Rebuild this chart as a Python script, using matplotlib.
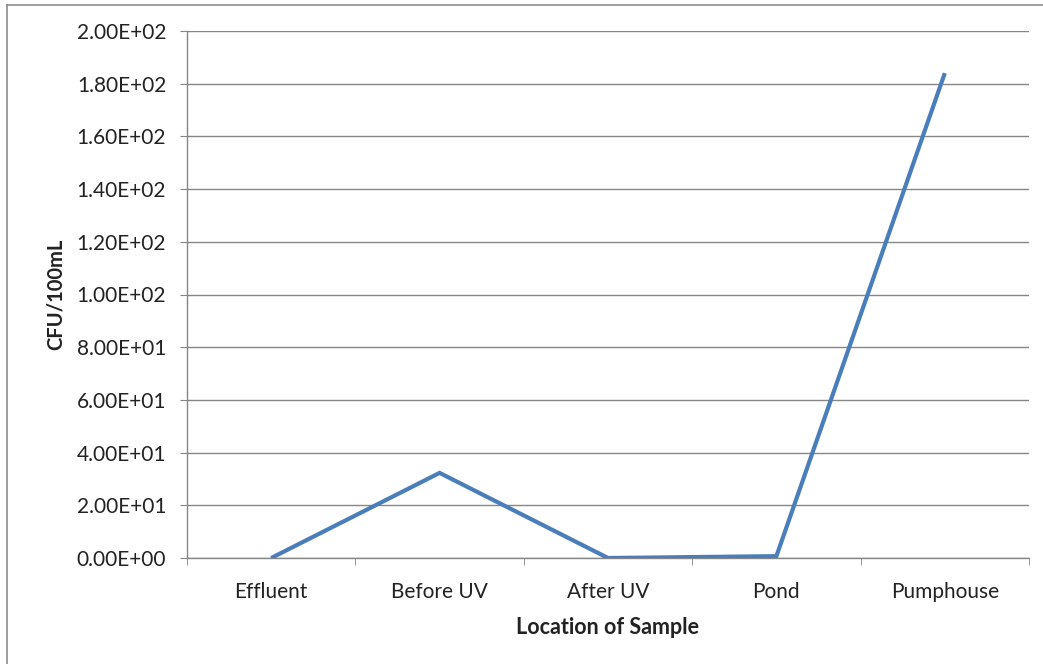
import matplotlib
matplotlib.use("Agg")
import matplotlib.pyplot as plt
from matplotlib.lines import Line2D
from matplotlib.ticker import FixedLocator, FuncFormatter

locations = ["Effluent", "Before UV", "After UV", "Pond", "Pumphouse"]
cfu_per_100ml = [0.0, 32.3, 0.0, 0.7, 184.0]
y_ticks = [0, 20, 40, 60, 80, 100, 120, 140, 160, 180, 200]

plt.rcParams['font.family'] = ['Lato', 'DejaVu Sans']

W, H = 1043, 664
fig = plt.figure(figsize=(W / 100, H / 100), dpi=100)
fig.patch.set_facecolor("white")

# plot area in pixel coordinates
left, right, top, bottom = 187, 1029, 31, 558
ax = fig.add_axes([left / W, 1 - bottom / H, (right - left) / W, (bottom - top) / H])

x = list(range(len(locations)))
ax.plot(x, cfu_per_100ml, color="#4A7EBB", linewidth=3.0, solid_capstyle="butt",
        solid_joinstyle="miter", zorder=3)

ax.set_xlim(-0.5, len(locations) - 0.5)
ax.set_ylim(0, 200)
ax.set_yticks(y_ticks)
ax.yaxis.set_major_formatter(FuncFormatter(lambda v, p: f"{v:.2E}"))
ax.set_xticks(x)
ax.set_xticklabels(locations)
ax.xaxis.set_minor_locator(FixedLocator([i - 0.5 for i in range(len(locations) + 1)]))

grid_col = "#868686"
text_col = "#222222"
ax.grid(axis="y", color=grid_col, linewidth=1.0, zorder=1)
ax.set_axisbelow(True)
for s in ["top", "right"]:
    ax.spines[s].set_visible(False)
for s in ["left", "bottom"]:
    ax.spines[s].set_color(grid_col)
    ax.spines[s].set_linewidth(1.0)

ax.tick_params(axis="y", which="major", length=5, color=grid_col, labelsize=15,
               labelcolor=text_col, pad=10)
ax.tick_params(axis="x", which="major", length=0, labelsize=15,
               labelcolor=text_col, pad=17)
ax.tick_params(axis="x", which="minor", length=5, color=grid_col, direction="out")

ax.set_xlabel("Location of Sample", fontsize=15.5, fontweight="bold", labelpad=11,
              color=text_col)
ax.set_ylabel("CFU/100mL", fontsize=14.5, fontweight="bold", labelpad=8,
              color=text_col)

# chart frame (left and top edges)
fig.add_artist(Line2D([7 / W, 7 / W], [0, 1 - 5 / H], transform=fig.transFigure,
                      color="#8c8c8c", linewidth=1.2))
fig.add_artist(Line2D([7 / W, 1], [1 - 5 / H, 1 - 5 / H], transform=fig.transFigure,
                      color="#8c8c8c", linewidth=1.2))

fig.savefig("out.png", dpi=100, facecolor="white")
